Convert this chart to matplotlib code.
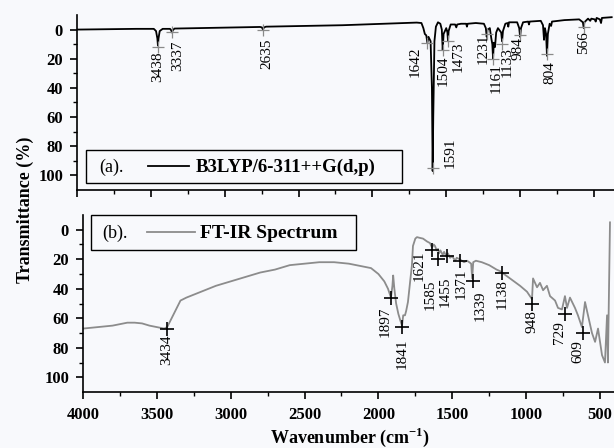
import numpy as np
import matplotlib
matplotlib.use('Agg')
import matplotlib.pyplot as plt
from matplotlib.patches import Rectangle
from matplotlib.lines import Line2D

plt.rcParams['font.family'] = ['Liberation Serif', 'DejaVu Serif']
plt.rcParams['mathtext.fontset'] = 'custom'
plt.rcParams['mathtext.rm'] = 'Liberation Serif'
plt.rcParams['mathtext.bf'] = 'Liberation Serif:bold'

# (a) computed B3LYP/6-311++G(d,p) spectrum
calc_wn = [4000, 3600, 3480, 3465, 3456, 3452, 3448, 3440, 3420, 3370, 3362, 3357, 3352, 3340,
           2760, 2748, 2741, 2734, 2720, 2200, 1700, 1668, 1655, 1645, 1635, 1628, 1620, 1606,
           1597, 1592, 1588, 1580, 1570, 1556, 1540, 1530, 1524, 1518, 1500, 1492, 1488, 1484,
           1470, 1440, 1432, 1426, 1400, 1365, 1360, 1355, 1300, 1245, 1232, 1226, 1220, 1205,
           1195, 1188, 1183, 1178, 1170, 1162, 1150, 1128, 1122, 1116, 1100, 1085, 1080, 1075,
           1020, 1006, 1000, 994, 980, 945, 940, 935, 860, 845, 838, 832, 824, 818, 812, 800,
           790, 784, 700, 600, 575, 569, 565, 540, 525, 518, 495, 488, 482, 460, 452, 446, 380]
calc_T = [0, -0.5, -0.5, 1, 6, 11, 6, 1, -0.5, -0.5, 0.5, 2, 0.5, -0.7,
          -1.8, -1.5, 0, -1.5, -2, -3, -4.8, -4.5, -1, 3, 4, 9, 5, 8,
          40, 97, 60, 8, -2, -5, -4, 0, 14, 3, -1, 2, 8, 1,
          -3.5, -3.5, -1.5, -3.5, -4, -4, -2, -4, -4.5, -4, -1, 5, 0, -1,
          6, 10, 20, 9, 12, 2, -1, 2, 8, 1, -4, -4.5, -2, -5,
          -5, -1, 5, -1, -5, -5.5, -3.5, -5.5, -6, -3, 7, -1, 3, 18, 3, -4,
          -2.5, -5.5, -6.5, -7, -5, -1, -5, -7.5, -6, -7.5, -7, -5.5, -8, -7, -4.5, -8, -8.5]

calc_labels = ['3438', '3337', '2635', '1642', '1591', '1504', '1473', '1231', '1161', '1133', '984', '804', '566']
calc_mark_wn = [3452, 3357, 2741, 1628, 1590, 1522, 1488, 1224, 1183, 1122, 1000, 818, 567]
calc_mark_T = [12, 2, 0, 9, 95, 14, 8, 3, 20, 10, 3.5, 17, -2]

# (b) experimental FT-IR spectrum
exp_wn = [4000, 3900, 3800, 3700, 3650, 3600, 3550, 3500, 3450, 3430, 3400, 3370, 3340, 3300,
          3200, 3100, 3000, 2900, 2800, 2700, 2600, 2500, 2400, 2300, 2200, 2100, 2050, 2000,
          1960, 1935, 1915, 1905, 1900, 1892, 1880, 1865, 1850, 1840, 1832, 1820, 1812, 1800,
          1785, 1773, 1766, 1750, 1739, 1720, 1698, 1670, 1651, 1637, 1625, 1617, 1605, 1596,
          1590, 1580, 1565, 1555, 1540, 1530, 1515, 1500, 1480, 1470, 1450, 1420, 1400, 1385,
          1372, 1365, 1358, 1340, 1300, 1250, 1200, 1177, 1150, 1109, 1041, 994, 974, 960,
          953, 926, 906, 885, 859, 838, 804, 784, 757, 737, 723, 703, 669, 649, 622, 601,
          581, 554, 533, 513, 486, 466, 452, 446, 432]
exp_T = [67, 66, 65, 63, 63, 63.5, 65, 66, 67, 66, 60, 54, 48, 46,
         42, 38, 35, 32, 29, 27, 24, 23, 22, 22, 23, 25, 26, 30,
         35, 40, 46, 38, 31, 40, 50, 57, 62, 65, 58, 58, 55, 49,
         35, 24, 11, 6, 5, 5.5, 6, 8, 9, 12, 10, 11, 14, 13,
         16, 14, 17, 15, 18, 16, 19, 18, 21, 19, 20, 22, 21, 22,
         23, 33, 22, 21, 22, 24, 27, 28, 30, 33, 38, 42, 45, 47,
         33, 39, 36, 41, 38, 45, 48, 53, 54, 45, 53, 46, 53, 58, 66, 49,
         58, 70, 76, 67, 85, 90, 58, 90, -5]

exp_labels = ['3434', '1897', '1841', '1621', '1585', '1455', '1371', '1339', '1138', '948', '729', '609']
exp_mark_wn = [3431, 1912, 1840, 1637, 1596, 1536, 1448, 1360, 1160, 960, 737, 615]
exp_mark_T = [67, 46, 66, 14, 20, 18, 21, 35, 29, 50, 57, 70]

# label offsets in pixels (dx, gap below marker)
calc_off = [(0, 4), (6, 8), (4, 9), (-12, 4), (17, 0), (0, 6), (10, 0), (-4, 0), (3, 4), (5, 3), (-2, 2), (3, 7), (0, 4)]
exp_off = [(0, 6), (-6, 9), (0, 11), (-13, 0), (-8, 20), (-2, 20), (1, 8), (7, 9), (0, 7), (0, 7), (-5, 7), (-5, 7)]

W, H = 614, 448
fig = plt.figure(figsize=(W / 100, H / 100), dpi=100)
fig.patch.set_facecolor('#f8f9fc')


def fx(x):
    return x / W


def fy(y):
    return 1 - y / H


ax1 = fig.add_axes([fx(77), fy(190), fx(614 - 77), (190 - 15) / H])
ax2 = fig.add_axes([fx(83), fy(392), fx(614 - 83), (392 - 215) / H])

for ax in (ax1, ax2):
    ax.set_facecolor('none')
    ax.spines['top'].set_visible(False)
    ax.spines['right'].set_visible(False)
    ax.spines['left'].set_linewidth(1.2)
    ax.spines['bottom'].set_linewidth(1.2)
    ax.set_ylim(110, -10)
    ax.set_yticks([0, 20, 40, 60, 80, 100])
    ax.set_yticks(np.arange(10, 110, 20), minor=True)
    ax.set_xticks([4000, 3500, 3000, 2500, 2000, 1500, 1000, 500])
    ax.set_xticks(np.arange(3750, 300, -500), minor=True)
    ax.tick_params(which='major', direction='out', length=5, width=1.2, labelsize=12, pad=5)
    ax.tick_params(which='minor', direction='out', length=3, width=1.0)
    ax.tick_params(axis='x', which='major', pad=6)
    for lab in ax.get_yticklabels() + ax.get_xticklabels():
        lab.set_fontweight('bold')

ax1.set_xlim(4000, 4000 - (614 - 77) / 0.1477)
ax2.set_xlim(4000, 4000 - (614 - 83) / 0.1477)
ax1.tick_params(axis='x', labelbottom=False)

ax1.plot(calc_wn, calc_T, color='black', lw=1.3)
ax1.plot(calc_mark_wn, calc_mark_T, '+', color='#8a8a8a', ms=8, mew=0.9)
for lab, wn, t, (dx, gap) in zip(calc_labels, calc_mark_wn, calc_mark_T, calc_off):
    va = 'bottom' if lab == '1591' else 'top'
    ax1.annotate(lab, xy=(wn, t), xytext=(dx, -gap if va == 'top' else 0),
                 textcoords='offset pixels', rotation=90, ha='center', va=va, fontsize=11)

ax2.plot(exp_wn, exp_T, color='#8c8c8c', lw=1.3)
ax2.plot(exp_mark_wn, exp_mark_T, '+', color='black', ms=10, mew=1.2)
for lab, wn, t, (dx, gap) in zip(exp_labels, exp_mark_wn, exp_mark_T, exp_off):
    ax2.annotate(lab, xy=(wn, t), xytext=(dx, -gap), textcoords='offset pixels',
                 rotation=90, ha='center', va='top', fontsize=11)

# legend boxes
fig.add_artist(Rectangle((fx(86), fy(183)), fx(402 - 86), (183 - 150) / H,
                         transform=fig.transFigure, fill=False, ec='black', lw=1.0))
fig.text(fx(99), fy(167), '(a).', fontsize=13, va='center')
fig.add_artist(Line2D([fx(148), fx(189)], [fy(166), fy(166)], transform=fig.transFigure,
                      color='black', lw=1.3))
fig.text(fx(196), fy(167), 'B3LYP/6-311++G(d,p)', fontsize=13.5, fontweight='bold', va='center')

fig.add_artist(Rectangle((fx(91), fy(250)), fx(356 - 91), (250 - 215) / H,
                         transform=fig.transFigure, fill=False, ec='black', lw=1.0))
fig.text(fx(102), fy(233), '(b).', fontsize=13, va='center')
fig.add_artist(Line2D([fx(147), fx(195)], [fy(232), fy(232)], transform=fig.transFigure,
                      color='#8c8c8c', lw=1.3))
fig.text(fx(200), fy(233), 'FT-IR Spectrum', fontsize=14, fontweight='bold', va='center')

fig.text(fx(25), fy(210), 'Transmittance (%)', rotation=90, fontsize=13,
         fontweight='bold', ha='center', va='center')
fig.text(fx(350), fy(437), r'Wavenumber (cm$^{\mathbf{-1}}$)', fontsize=13,
         fontweight='bold', ha='center', va='center')

fig.savefig('out.png', dpi=100, facecolor=fig.get_facecolor())
